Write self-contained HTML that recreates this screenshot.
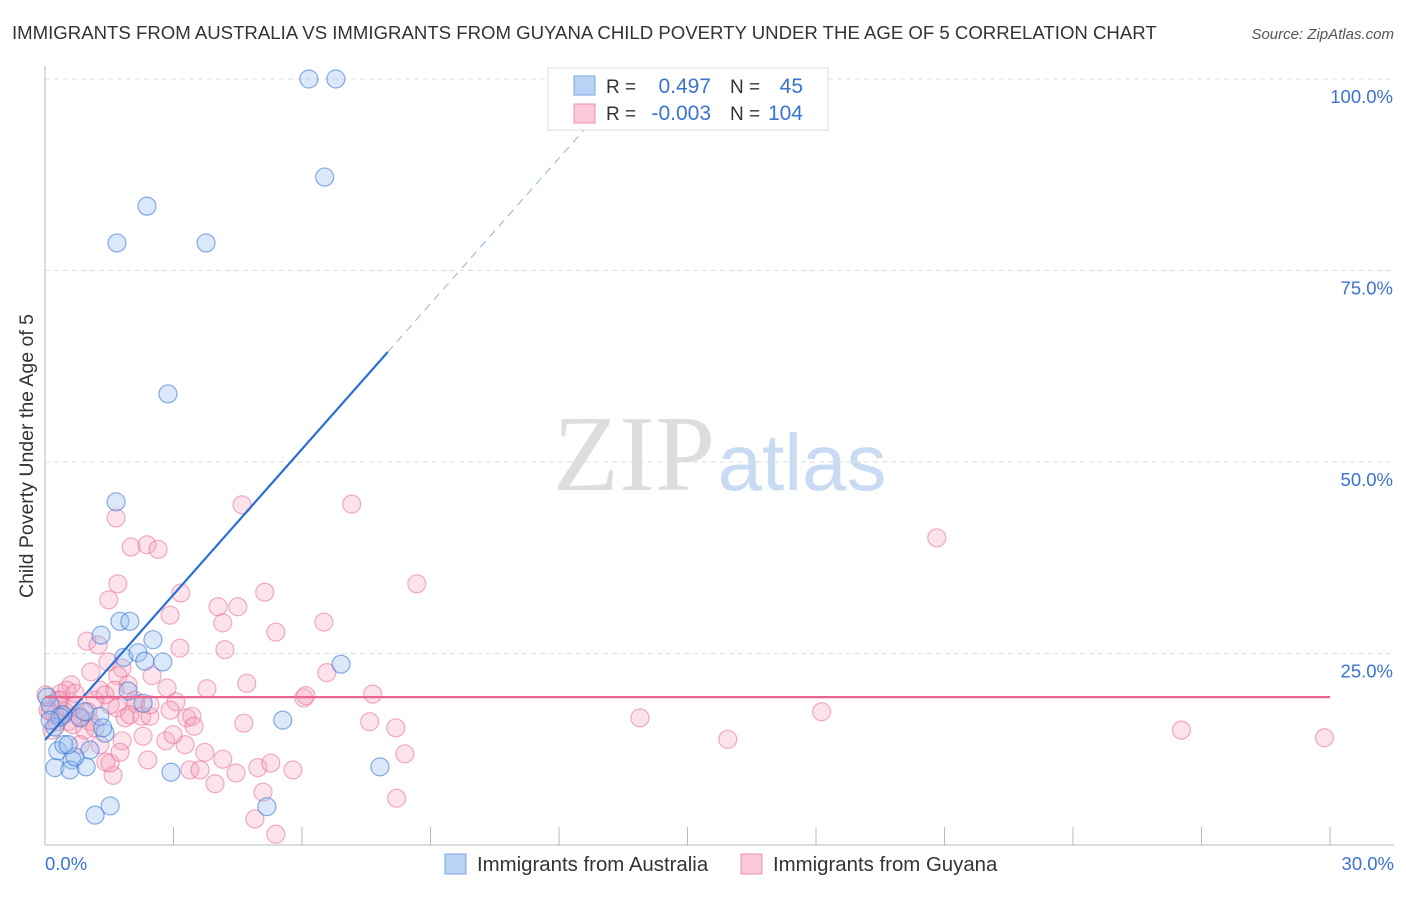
<!DOCTYPE html>
<html><head><meta charset="utf-8"><style>
body{margin:0;background:#fff;font-family:"Liberation Sans",sans-serif}
svg text{font-family:"Liberation Sans",sans-serif}
</style></head><body>
<svg id="chart" width="1406" height="892">
<text x="12" y="39" font-size="18.6" fill="#333">IMMIGRANTS FROM AUSTRALIA VS IMMIGRANTS FROM GUYANA CHILD POVERTY UNDER THE AGE OF 5 CORRELATION CHART</text>
<text x="1394" y="39" font-size="15" fill="#555" font-style="italic" text-anchor="end">Source: ZipAtlas.com</text>
<text transform="translate(33,456) rotate(-90)" font-size="19.5" fill="#333" text-anchor="middle">Child Poverty Under the Age of 5</text>
<g>
<text x="634" y="490" font-size="108" fill="#ddd" text-anchor="middle" style="font-family:'Liberation Serif',serif">ZIP</text>
<text x="802" y="490" font-size="80" fill="#c8dbf2" text-anchor="middle">atlas</text>
</g>
<g id="grid"></g><g id="axes"></g><g id="marks"></g><g id="lines"></g>
<g>
<rect x="548" y="68" width="280" height="62" fill="#fff" stroke="#ddd"/>
<rect x="574" y="76" width="21" height="19" fill="#b8d3f5" stroke="#7aa6e0"/>
<rect x="574" y="104" width="21" height="19" fill="#fbc8d8" stroke="#eb92ae"/>
<text x="606" y="93" font-size="19" fill="#333">R =</text>
<text x="711" y="93" font-size="21" fill="#3b73d0" text-anchor="end">0.497</text>
<text x="730" y="93" font-size="19" fill="#333">N =</text>
<text x="803" y="93" font-size="21" fill="#3b73d0" text-anchor="end">45</text>
<text x="606" y="120" font-size="19" fill="#333">R =</text>
<text x="711" y="120" font-size="21" fill="#3b73d0" text-anchor="end">-0.003</text>
<text x="730" y="120" font-size="19" fill="#333">N =</text>
<text x="803" y="120" font-size="21" fill="#3b73d0" text-anchor="end">104</text>
</g>
<g>
<rect x="445" y="854" width="21" height="20" fill="#b8d3f5" stroke="#7aa6e0"/>
<text x="477" y="871" font-size="20.4" fill="#333">Immigrants from Australia</text>
<rect x="741" y="854" width="21" height="20" fill="#fbc8d8" stroke="#eb92ae"/>
<text x="773" y="871" font-size="20.4" fill="#333">Immigrants from Guyana</text>
</g>
</svg>
<script>
const blueX=[6.16,6.79,6.53,2.38,1.68,3.76,2.87,1.66,1.31,1.75,1.98,2.52,1.84,2.17,2.33,2.75,1.94,2.29,1.28,0.42,1.40,5.55,6.91,7.82,2.94,0.23,0.30,0.63,0.58,0.96,1.05,0.44,0.70,1.52,1.17,5.18,0.05,0.12,0.23,0.54,0.35,1.35,0.82,0.93,0.12];
const blueY=[100,100,87.2,83.4,78.6,78.6,58.9,44.8,27.4,29.2,29.2,26.8,24.5,25.1,24.0,23.9,20.1,18.5,16.8,17.0,14.6,16.3,23.6,10.2,9.5,10.1,12.3,11.1,9.8,10.2,12.4,13.1,11.5,5.1,3.9,5.0,19.3,18.3,15.4,13.1,16.7,15.3,16.6,17.4,16.3];
const pinkX=[4.60,7.16,1.66,2.01,2.38,2.64,20.82,1.70,8.68,3.17,5.13,1.49,4.04,4.50,2.92,4.15,6.51,0.98,1.24,5.39,3.15,4.20,1.07,1.47,1.80,6.58,1.70,2.50,4.71,2.85,3.78,7.65,1.94,6.04,6.09,3.06,1.68,2.12,0.61,0.37,13.89,18.13,26.53,29.87,1.87,2.26,2.45,3.31,3.43,4.64,3.48,7.58,8.19,2.29,2.82,3.27,2.99,15.94,3.73,4.15,1.42,2.40,3.38,4.46,4.97,5.27,5.79,8.40,3.97,1.59,1.52,8.21,4.90,5.39,0.35,0.47,0.23,0.07,0.70,0.82,1.05,1.17,1.28,0.54,0.16,0.30,0.93,1.52,1.63,1.98,2.10,1.28,1.80,2.45,2.92,0.82,1.75,0.51,0.65,1.17,0.40,1.40,3.62,5.09,0.02,0.12,0.70,1.0,0.28];
const pinkY=[44.4,44.5,42.7,38.9,39.2,38.6,40.1,34.1,34.1,32.9,33.0,32.0,31.1,31.1,30.0,29.0,29.1,26.6,26.1,27.8,25.7,25.5,22.6,23.9,23.1,22.5,22.1,22.1,21.1,20.5,20.4,19.7,20.9,19.2,19.5,18.7,17.9,18.5,20.9,19.8,16.6,17.4,15.0,14.0,16.6,16.8,16.8,16.6,16.8,15.9,15.5,16.1,15.3,14.2,13.6,13.1,14.4,13.8,12.1,11.2,10.8,11.1,9.8,9.4,10.1,10.7,9.8,11.9,8.0,9.1,10.7,6.1,3.4,1.4,18.9,17.4,17.0,17.6,18.3,16.8,16.1,18.9,20.2,16.1,15.0,18.9,15.0,18.3,20.2,17.0,18.9,13.1,13.6,18.3,17.6,13.1,12.1,20.2,15.7,15.3,17.0,19.6,9.8,6.9,19.6,17.4,19.8,17.4,16.1];
const xTicks=[0,3,6,9,12,15,18,21,24,27,30];
const yTicks=[25,50,75,100];
const yTickLabels=["25.0%","50.0%","75.0%","100.0%"];
const xEndLabels=["0.0%","30.0%"];
const blueFit=[13.7,6.33];
const blueFitSolidEnd=8.0, blueFitDashEnd=12.7;
const pinkFit=[19.3,0];

const X0=45,X1=1330,Y0=845,Y1=79;
const sx=v=>X0+(v/30)*(X1-X0);
const sy=v=>Y0-(v/100)*(Y0-Y1);
const NS="http://www.w3.org/2000/svg";
function mk(tag,attrs,parent){const e=document.createElementNS(NS,tag);for(const k in attrs)e.setAttribute(k,attrs[k]);document.getElementById(parent).appendChild(e);return e;}

yTicks.forEach((t,i)=>{
  const g=mk('line',{x1:X0,x2:1394,y1:sy(t),y2:sy(t),stroke:'#ddd','stroke-dasharray':'5,4'},'grid');
  
  
  const l=mk('text',{x:1393,y:sy(t)+24,'font-size':18.5,fill:'#3b73d0','text-anchor':'end'},'axes');
  l.textContent=yTickLabels[i];
  
  
});
const ax=mk('line',{x1:X0,x2:X0,y1:66,y2:Y0,stroke:'#bbb'},'axes');


const bx=mk('line',{x1:X0,x2:1394,y1:Y0,y2:Y0,stroke:'#bbb'},'axes');


xTicks.forEach(t=>{
  const k=mk('line',{x1:sx(t),x2:sx(t),y1:Y0,y2:Y0-18,stroke:'#bbb'},'axes');
  
  
});
[[0,'start',X0],[30,'end',1394]].forEach((d,i)=>{
  const l=mk('text',{x:d[2],y:870,'font-size':18.5,fill:'#3b73d0','text-anchor':d[1]},'axes');
  l.textContent=xEndLabels[i];
  
  
});
pinkX.forEach((v,i)=>{
  const c=mk('circle',{cx:sx(v),cy:sy(pinkY[i]),r:9,fill:'rgba(245,160,190,0.3)',stroke:'rgba(230,110,150,0.55)','stroke-width':1.2},'marks');
  
  
});
blueX.forEach((v,i)=>{
  const c=mk('circle',{cx:sx(v),cy:sy(blueY[i]),r:9,fill:'rgba(150,190,240,0.35)',stroke:'rgba(60,120,210,0.6)','stroke-width':1.2},'marks');
  
  
});
const bl=mk('line',{x1:sx(0),y1:sy(blueFit[0]),x2:sx(blueFitSolidEnd),y2:sy(blueFit[0]+blueFit[1]*blueFitSolidEnd),stroke:'#2a6fd6','stroke-width':2.2},'lines');


const bd=mk('line',{x1:sx(blueFitSolidEnd),y1:sy(blueFit[0]+blueFit[1]*blueFitSolidEnd),x2:sx(blueFitDashEnd),y2:sy(blueFit[0]+blueFit[1]*blueFitDashEnd),stroke:'#8fb0e0','stroke-width':1,'stroke-dasharray':'8,6'},'lines');


const pl=mk('line',{x1:sx(0),y1:sy(pinkFit[0]),x2:sx(30),y2:sy(pinkFit[0]+pinkFit[1]*30),stroke:'#e8668e','stroke-width':2.2},'lines');


</script>
</body></html>
